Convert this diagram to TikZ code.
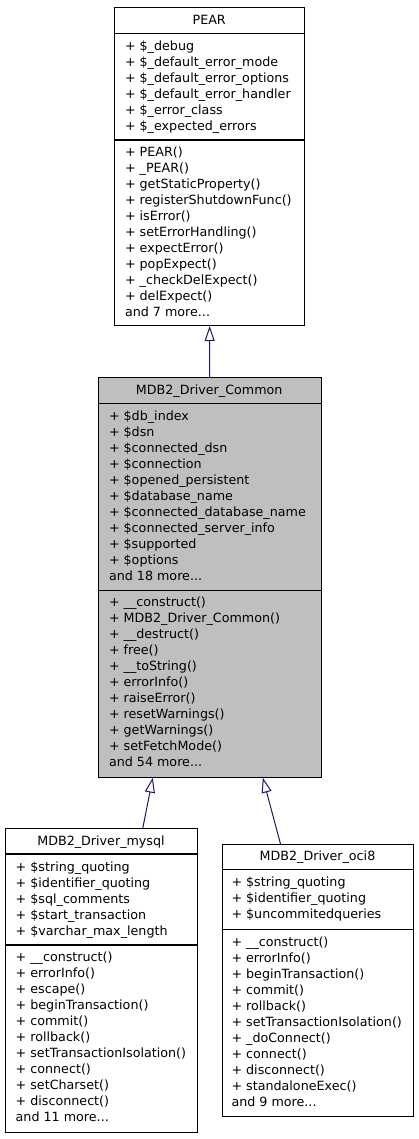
\documentclass[tikz,border=0pt]{standalone}
\usepackage{fontspec}
\setmainfont{DejaVu Sans}
\usetikzlibrary{arrows.meta}
\definecolor{navyline}{HTML}{191970}
\definecolor{greyfill}{HTML}{BFBFBF}
\newcommand\mydots{...}
\begin{document}
\begin{tikzpicture}[x=1pt,y=-1pt,
  box/.style={draw=black, line width=1pt, inner sep=0pt, anchor=north west, fill=white},
  sep/.style={draw=black, line width=1.3pt},
  ln/.style={anchor=base west, inner sep=0pt, font=\fontsize{12.7}{16}\selectfont},
  ttl/.style={anchor=base, inner sep=0pt, font=\fontsize{12.7}{16}\selectfont},
  inh/.style={draw=navyline, line width=1pt, {Triangle[open, length=15pt, width=10pt, fill=white]}-}]
\useasboundingbox (0,0) rectangle (419,1139);

% PEAR
\node[box, minimum width=189.7pt, minimum height=318.3pt] (pear) at (114.3,6.7) {};
\draw[sep] (114.3,33.3) -- (304,33.3);
\draw[sep] (114.3,140) -- (304,140);
\node[ttl] (pearT) at (209.2,24.7) {PEAR};
\foreach \txt [count=\i from 0] in {+ \$\_debug, + \$\_default\_error\_mode, + \$\_default\_error\_options, + \$\_default\_error\_handler, + \$\_error\_class, + \$\_expected\_errors}
  \node[ln] (pa\i) at (124.8,50.2+16*\i) {\txt};
\foreach \txt [count=\i from 0] in {+ PEAR(), + \_PEAR(), + getStaticProperty(), + registerShutdownFunc(), + isError(), + setErrorHandling(), + expectError(), + popExpect(), + \_checkDelExpect(), + delExpect(), and 7 more\mydots}
  \node[ln] (pm\i) at (124.8,156.2+16*\i) {\txt};

% MDB2_Driver_Common
\node[box, fill=greyfill, minimum width=223pt, minimum height=399.4pt] (common) at (97.7,377.3) {};
\draw[sep] (97.7,403.3) -- (320.7,403.3);
\draw[sep] (97.7,590.7) -- (320.7,590.7);
\node[ttl] (commonT) at (209.2,394.7) {MDB2\_Driver\_Common};
\foreach \txt [count=\i from 0] in {+ \$db\_index, + \$dsn, + \$connected\_dsn, + \$connection, + \$opened\_persistent, + \$database\_name, + \$connected\_database\_name, + \$connected\_server\_info, + \$supported, + \$options, and 18 more\mydots}
  \node[ln] (ca\i) at (108.8,420.3+16*\i) {\txt};
\foreach \txt [count=\i from 0] in {+ \_\_construct(), + MDB2\_Driver\_Common(), + \_\_destruct(), + free(), + \_\_toString(), + errorInfo(), + raiseError(), + resetWarnings(), + getWarnings(), + setFetchMode(), and 54 more\mydots}
  \node[ln] (cm\i) at (108.8,606.8+16*\i) {\txt};

% MDB2_Driver_mysql
\node[box, minimum width=192.6pt, minimum height=303.7pt] (mysql) at (4.7,828) {};
\draw[sep] (4.7,854) -- (197.3,854);
\draw[sep] (4.7,945) -- (197.3,945);
\node[ttl] (mysqlT) at (101,845.4) {MDB2\_Driver\_mysql};
\foreach \txt [count=\i from 0] in {+ \$string\_quoting, + \$identifier\_quoting, + \$sql\_comments, + \$start\_transaction, + \$varchar\_max\_length}
  \node[ln] (ma\i) at (15.5,871.2+16*\i) {\txt};
\foreach \txt [count=\i from 0] in {+ \_\_construct(), + errorInfo(), + escape(), + beginTransaction(), + commit(), + rollback(), + setTransactionIsolation(), + connect(), + setCharset(), + disconnect(), and 11 more\mydots}
  \node[ln] (mm\i) at (15.5,961.8+16*\i) {\txt};

% MDB2_Driver_oci8
\node[box, minimum width=191.6pt, minimum height=272pt] (oci) at (221.7,844) {};
\draw[sep] (221.7,869.3) -- (413.3,869.3);
\draw[sep] (221.7,929.3) -- (413.3,929.3);
\node[ttl] (ociT) at (317.5,860.7) {MDB2\_Driver\_oci8};
\foreach \txt [count=\i from 0] in {+ \$string\_quoting, + \$identifier\_quoting, + \$uncommitedqueries}
  \node[ln] (oa\i) at (231.3,886.8+16*\i) {\txt};
\foreach \txt [count=\i from 0] in {+ \_\_construct(), + errorInfo(), + beginTransaction(), + commit(), + rollback(), + setTransactionIsolation(), + \_doConnect(), + connect(), + disconnect(), + standaloneExec(), and 9 more\mydots}
  \node[ln] (om\i) at (231.3,946.2+16*\i) {\txt};

% inheritance
\draw[inh] (pear.south) -- (common.north);
\draw[inh] ([xshift=-56.9pt]common.south) -- ([xshift=41.3pt]mysql.north);
\draw[inh] ([xshift=53.1pt]common.south) -- ([xshift=-37.5pt]oci.north);
\end{tikzpicture}
\end{document}
